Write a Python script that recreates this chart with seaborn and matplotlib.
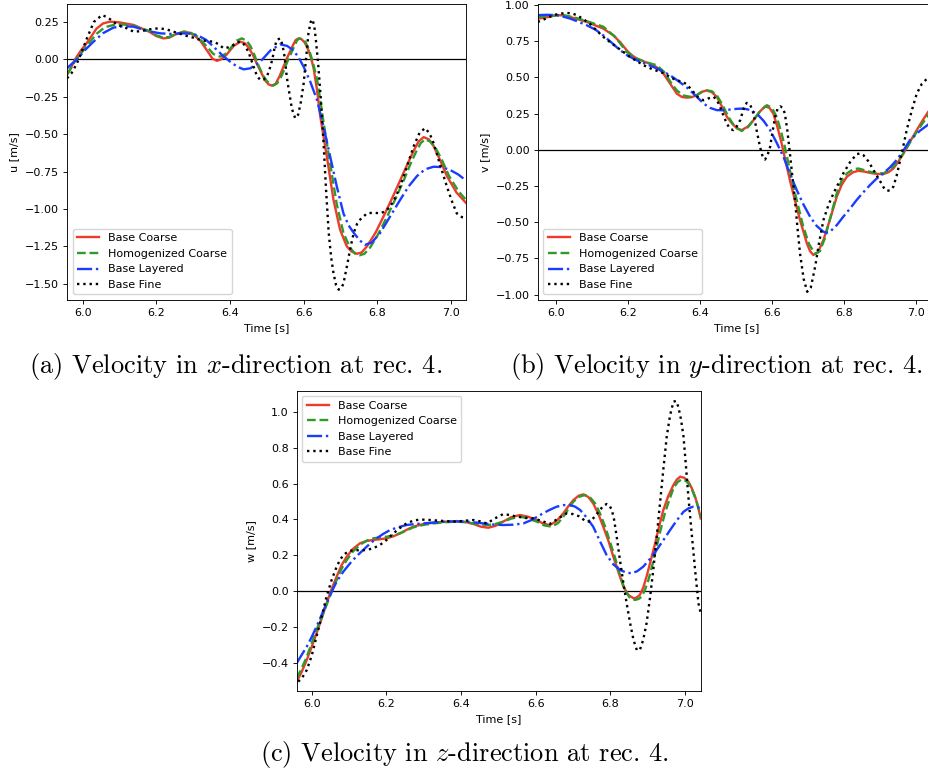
import matplotlib
matplotlib.use("Agg")
import matplotlib.pyplot as plt
from matplotlib.ticker import FuncFormatter
import seaborn as sns
import pandas as pd

plt.rcParams.update({
    "font.family": ["DejaVu Sans"],
    "font.size": 8,
    "axes.linewidth": 0.64,
    "xtick.major.size": 2.8,
    "ytick.major.size": 2.8,
    "xtick.major.width": 0.64,
    "ytick.major.width": 0.64,
    "xtick.major.pad": 2.8,
    "ytick.major.pad": 2.8,
    "lines.linewidth": 1.6,
    "legend.fontsize": 8,
    "mathtext.fontset": "cm",
})

labels = ["Base Coarse", "Homogenized Coarse", "Base Layered", "Base Fine"]
colors = ["#ee3b2b", "#2f9a2a", "#1a3cff", "black"]
styles = ["-", "--", "-.", ":"]

# ---------- (a) u velocity ----------
t_a_coarse = [5.957, 5.968, 5.979, 5.995, 6.011, 6.037, 6.055, 6.074, 6.10, 6.138, 6.18, 6.20, 6.219, 6.235, 6.25, 6.274, 6.29, 6.305, 6.319, 6.34, 6.352, 6.364, 6.376, 6.39, 6.41, 6.428, 6.44, 6.45, 6.462, 6.473, 6.485, 6.495, 6.505, 6.514, 6.524, 6.535, 6.545, 6.555, 6.57, 6.578, 6.586, 6.594, 6.603, 6.613, 6.62, 6.627, 6.636, 6.645, 6.663, 6.681, 6.699, 6.717, 6.73, 6.745, 6.758, 6.772, 6.795, 6.817, 6.84, 6.862, 6.882, 6.899, 6.912, 6.926, 6.94, 6.953, 6.97, 6.989, 7.015, 7.041]
u_coarse = [-0.105, -0.055, 0.0, 0.06, 0.11, 0.205, 0.24, 0.252, 0.247, 0.23, 0.185, 0.155, 0.14, 0.145, 0.165, 0.185, 0.178, 0.155, 0.125, 0.05, 0.005, -0.01, 0.0, 0.03, 0.09, 0.118, 0.108, 0.08, 0.03, -0.03, -0.09, -0.14, -0.168, -0.176, -0.163, -0.11, -0.05, 0.01, 0.09, 0.128, 0.14, 0.135, 0.112, 0.06, 0.01, -0.06, -0.2, -0.38, -0.65, -0.94, -1.14, -1.25, -1.285, -1.30, -1.29, -1.25, -1.16, -1.05, -0.93, -0.81, -0.70, -0.61, -0.55, -0.52, -0.535, -0.58, -0.67, -0.78, -0.89, -0.96]
t_a_homog = [5.957, 5.968, 5.979, 5.995, 6.011, 6.037, 6.06, 6.092, 6.115, 6.138, 6.18, 6.20, 6.219, 6.235, 6.25, 6.274, 6.29, 6.31, 6.337, 6.355, 6.373, 6.387, 6.40, 6.418, 6.432, 6.445, 6.455, 6.466, 6.477, 6.49, 6.50, 6.51, 6.518, 6.528, 6.54, 6.55, 6.56, 6.575, 6.582, 6.589, 6.597, 6.605, 6.615, 6.625, 6.636, 6.645, 6.654, 6.672, 6.69, 6.708, 6.726, 6.74, 6.752, 6.765, 6.78, 6.80, 6.825, 6.848, 6.87, 6.89, 6.905, 6.918, 6.930, 6.944, 6.958, 6.975, 6.995, 7.02, 7.041]
u_homog = [-0.10, -0.06, -0.01, 0.04, 0.09, 0.17, 0.215, 0.235, 0.232, 0.225, 0.19, 0.16, 0.145, 0.15, 0.165, 0.185, 0.182, 0.155, 0.085, 0.035, 0.018, 0.035, 0.07, 0.125, 0.14, 0.125, 0.09, 0.03, -0.04, -0.11, -0.145, -0.17, -0.175, -0.16, -0.11, -0.05, 0.01, 0.09, 0.128, 0.14, 0.135, 0.115, 0.06, -0.02, -0.13, -0.27, -0.42, -0.70, -0.97, -1.16, -1.26, -1.30, -1.31, -1.30, -1.26, -1.18, -1.06, -0.94, -0.82, -0.70, -0.62, -0.56, -0.535, -0.55, -0.59, -0.67, -0.78, -0.88, -0.94]
t_a_layer = [5.957, 5.97, 5.984, 6.005, 6.029, 6.055, 6.083, 6.11, 6.138, 6.175, 6.21, 6.24, 6.264, 6.29, 6.31, 6.335, 6.355, 6.38, 6.40, 6.42, 6.437, 6.455, 6.482, 6.51, 6.536, 6.555, 6.572, 6.587, 6.60, 6.618, 6.636, 6.654, 6.672, 6.69, 6.708, 6.722, 6.736, 6.752, 6.767, 6.785, 6.808, 6.835, 6.862, 6.885, 6.908, 6.93, 6.953, 6.975, 6.998, 7.02, 7.041]
u_layer = [-0.06, -0.03, 0.0, 0.06, 0.118, 0.175, 0.212, 0.222, 0.218, 0.19, 0.174, 0.17, 0.174, 0.172, 0.163, 0.13, 0.085, 0.025, -0.015, -0.05, -0.067, -0.06, -0.016, 0.06, 0.10, 0.09, 0.06, 0.01, -0.05, -0.15, -0.27, -0.45, -0.65, -0.85, -1.03, -1.11, -1.16, -1.21, -1.24, -1.225, -1.16, -1.05, -0.94, -0.85, -0.78, -0.735, -0.718, -0.72, -0.74, -0.77, -0.81]
t_a_fine = [5.957, 5.97, 5.984, 5.997, 6.011, 6.03, 6.052, 6.068, 6.083, 6.10, 6.12, 6.138, 6.155, 6.174, 6.19, 6.21, 6.228, 6.246, 6.265, 6.283, 6.30, 6.319, 6.337, 6.355, 6.37, 6.382, 6.395, 6.41, 6.42, 6.428, 6.438, 6.45, 6.464, 6.473, 6.482, 6.491, 6.50, 6.508, 6.515, 6.521, 6.527, 6.536, 6.542, 6.548, 6.554, 6.56, 6.568, 6.577, 6.585, 6.592, 6.60, 6.607, 6.613, 6.619, 6.624, 6.629, 6.634, 6.64, 6.647, 6.654, 6.661, 6.668, 6.675, 6.681, 6.688, 6.695, 6.702, 6.708, 6.717, 6.727, 6.736, 6.745, 6.754, 6.772, 6.79, 6.808, 6.822, 6.835, 6.85, 6.862, 6.88, 6.899, 6.915, 6.930, 6.942, 6.953, 6.97, 6.989, 7.003, 7.016, 7.03, 7.041]
u_fine = [-0.127, -0.09, -0.027, 0.05, 0.14, 0.25, 0.296, 0.28, 0.25, 0.225, 0.207, 0.185, 0.188, 0.196, 0.205, 0.207, 0.2, 0.185, 0.17, 0.156, 0.145, 0.13, 0.122, 0.118, 0.1, 0.074, 0.08, 0.096, 0.115, 0.118, 0.1, 0.05, -0.05, -0.11, -0.138, -0.135, -0.116, -0.06, 0.0, 0.08, 0.13, 0.14, 0.1, 0.02, -0.116, -0.21, -0.33, -0.394, -0.37, -0.29, -0.16, 0.02, 0.174, 0.25, 0.267, 0.22, 0.11, -0.05, -0.28, -0.56, -0.88, -1.16, -1.33, -1.43, -1.51, -1.54, -1.53, -1.50, -1.39, -1.26, -1.16, -1.10, -1.07, -1.03, -1.025, -1.03, -1.015, -0.985, -0.92, -0.85, -0.72, -0.58, -0.49, -0.46, -0.495, -0.56, -0.70, -0.85, -0.95, -1.03, -1.055, -1.06]

# ---------- (b) v velocity ----------
t_b_coarse = [5.950, 5.975, 6.003, 6.02, 6.040, 6.086, 6.132, 6.160, 6.18, 6.197, 6.21, 6.225, 6.25, 6.271, 6.286, 6.299, 6.318, 6.336, 6.35, 6.364, 6.377, 6.391, 6.405, 6.419, 6.433, 6.447, 6.46, 6.475, 6.49, 6.503, 6.516, 6.533, 6.549, 6.565, 6.581, 6.593, 6.604, 6.615, 6.627, 6.638, 6.650, 6.664, 6.678, 6.697, 6.706, 6.715, 6.728, 6.743, 6.76, 6.780, 6.794, 6.808, 6.825, 6.840, 6.856, 6.872, 6.89, 6.909, 6.923, 6.937, 6.95, 6.965, 6.983, 7.002, 7.02, 7.037]
v_coarse = [0.905, 0.915, 0.93, 0.928, 0.917, 0.883, 0.837, 0.79, 0.74, 0.687, 0.655, 0.63, 0.605, 0.584, 0.56, 0.526, 0.455, 0.388, 0.365, 0.36, 0.363, 0.377, 0.40, 0.41, 0.398, 0.366, 0.305, 0.228, 0.18, 0.148, 0.136, 0.16, 0.205, 0.26, 0.30, 0.29, 0.25, 0.16, 0.044, -0.08, -0.21, -0.35, -0.485, -0.646, -0.70, -0.726, -0.705, -0.623, -0.49, -0.324, -0.24, -0.186, -0.155, -0.145, -0.15, -0.159, -0.166, -0.168, -0.155, -0.129, -0.085, -0.025, 0.055, 0.136, 0.21, 0.274]
t_b_homog = [5.950, 5.985, 6.021, 6.05, 6.09, 6.132, 6.165, 6.197, 6.225, 6.25, 6.280, 6.30, 6.318, 6.336, 6.355, 6.373, 6.39, 6.405, 6.419, 6.433, 6.447, 6.463, 6.479, 6.497, 6.516, 6.533, 6.549, 6.568, 6.586, 6.60, 6.613, 6.625, 6.636, 6.648, 6.660, 6.673, 6.687, 6.703, 6.720, 6.733, 6.747, 6.763, 6.780, 6.794, 6.808, 6.825, 6.840, 6.856, 6.872, 6.89, 6.909, 6.923, 6.937, 6.95, 6.965, 6.983, 7.002, 7.02, 7.037]
v_homog = [0.917, 0.925, 0.93, 0.915, 0.885, 0.85, 0.78, 0.676, 0.63, 0.605, 0.584, 0.54, 0.47, 0.41, 0.375, 0.366, 0.375, 0.398, 0.41, 0.405, 0.377, 0.31, 0.228, 0.16, 0.13, 0.155, 0.205, 0.27, 0.308, 0.29, 0.228, 0.13, 0.02, -0.12, -0.255, -0.39, -0.53, -0.65, -0.72, -0.70, -0.61, -0.46, -0.30, -0.21, -0.163, -0.135, -0.129, -0.14, -0.152, -0.16, -0.163, -0.145, -0.117, -0.075, -0.025, 0.05, 0.124, 0.19, 0.25]
t_b_layer = [5.950, 5.975, 6.003, 6.02, 6.040, 6.062, 6.086, 6.11, 6.132, 6.155, 6.179, 6.20, 6.225, 6.248, 6.271, 6.295, 6.317, 6.34, 6.364, 6.388, 6.410, 6.428, 6.447, 6.465, 6.484, 6.503, 6.521, 6.54, 6.558, 6.577, 6.595, 6.613, 6.632, 6.65, 6.669, 6.687, 6.706, 6.724, 6.743, 6.752, 6.761, 6.78, 6.798, 6.817, 6.835, 6.853, 6.872, 6.89, 6.909, 6.928, 6.946, 6.965, 6.983, 7.01, 7.037]
v_layer = [0.93, 0.932, 0.93, 0.92, 0.906, 0.885, 0.86, 0.83, 0.79, 0.74, 0.687, 0.65, 0.618, 0.595, 0.572, 0.545, 0.515, 0.475, 0.43, 0.375, 0.32, 0.29, 0.274, 0.273, 0.278, 0.283, 0.285, 0.275, 0.25, 0.2, 0.136, 0.05, -0.048, -0.165, -0.278, -0.375, -0.462, -0.525, -0.566, -0.572, -0.566, -0.52, -0.462, -0.405, -0.347, -0.295, -0.244, -0.2, -0.163, -0.12, -0.071, -0.005, 0.067, 0.13, 0.18]
t_b_fine = [5.950, 5.972, 5.994, 6.012, 6.031, 6.045, 6.058, 6.075, 6.095, 6.113, 6.132, 6.15, 6.169, 6.188, 6.206, 6.23, 6.253, 6.272, 6.290, 6.303, 6.317, 6.335, 6.354, 6.368, 6.382, 6.396, 6.410, 6.424, 6.438, 6.447, 6.456, 6.465, 6.475, 6.484, 6.493, 6.502, 6.512, 6.521, 6.530, 6.54, 6.549, 6.558, 6.567, 6.574, 6.581, 6.588, 6.595, 6.602, 6.609, 6.616, 6.623, 6.63, 6.636, 6.643, 6.650, 6.657, 6.664, 6.671, 6.678, 6.688, 6.698, 6.708, 6.720, 6.731, 6.743, 6.757, 6.771, 6.785, 6.798, 6.817, 6.835, 6.845, 6.854, 6.868, 6.882, 6.9, 6.91, 6.919, 6.928, 6.937, 6.946, 6.956, 6.965, 6.974, 6.988, 7.002, 7.016, 7.030, 7.037]
v_fine = [0.883, 0.905, 0.93, 0.94, 0.945, 0.942, 0.93, 0.905, 0.87, 0.825, 0.78, 0.745, 0.71, 0.675, 0.641, 0.605, 0.572, 0.553, 0.538, 0.525, 0.503, 0.48, 0.469, 0.44, 0.40, 0.36, 0.342, 0.355, 0.366, 0.345, 0.297, 0.24, 0.18, 0.145, 0.136, 0.16, 0.205, 0.28, 0.324, 0.31, 0.25, 0.13, 0.02, -0.045, -0.067, -0.035, 0.02, 0.13, 0.228, 0.285, 0.30, 0.29, 0.25, 0.13, -0.025, -0.19, -0.347, -0.54, -0.715, -0.89, -0.98, -0.95, -0.807, -0.64, -0.485, -0.38, -0.30, -0.23, -0.163, -0.085, -0.03, -0.025, -0.037, -0.08, -0.14, -0.215, -0.26, -0.283, -0.28, -0.255, -0.18, -0.071, 0.03, 0.136, 0.27, 0.388, 0.455, 0.49, 0.499]

# ---------- (c) w velocity ----------
t_c_coarse = [5.960, 5.973, 5.987, 6.0, 6.013, 6.027, 6.040, 6.053, 6.067, 6.08, 6.094, 6.11, 6.129, 6.147, 6.165, 6.183, 6.201, 6.22, 6.237, 6.255, 6.272, 6.3, 6.326, 6.36, 6.388, 6.41, 6.433, 6.453, 6.473, 6.493, 6.513, 6.535, 6.558, 6.58, 6.603, 6.62, 6.638, 6.655, 6.674, 6.688, 6.701, 6.715, 6.728, 6.741, 6.754, 6.768, 6.781, 6.795, 6.808, 6.822, 6.835, 6.848, 6.862, 6.87, 6.879, 6.888, 6.897, 6.908, 6.920, 6.931, 6.942, 6.955, 6.969, 6.978, 6.987, 6.998, 7.009, 7.018, 7.027, 7.035, 7.042]
w_coarse = [-0.503, -0.45, -0.382, -0.31, -0.234, -0.15, -0.067, 0.01, 0.082, 0.145, 0.193, 0.235, 0.267, 0.28, 0.286, 0.29, 0.295, 0.307, 0.323, 0.343, 0.36, 0.375, 0.382, 0.388, 0.391, 0.387, 0.375, 0.36, 0.354, 0.365, 0.388, 0.413, 0.425, 0.415, 0.397, 0.377, 0.369, 0.39, 0.434, 0.475, 0.508, 0.532, 0.54, 0.525, 0.49, 0.43, 0.36, 0.28, 0.193, 0.105, 0.026, -0.02, -0.039, -0.035, -0.02, 0.02, 0.082, 0.17, 0.267, 0.365, 0.453, 0.53, 0.592, 0.622, 0.638, 0.632, 0.61, 0.575, 0.527, 0.47, 0.406]
t_c_homog = [5.960, 5.973, 5.987, 6.0, 6.013, 6.027, 6.040, 6.053, 6.067, 6.08, 6.094, 6.11, 6.129, 6.147, 6.165, 6.183, 6.201, 6.22, 6.237, 6.255, 6.272, 6.3, 6.326, 6.36, 6.388, 6.41, 6.433, 6.453, 6.473, 6.493, 6.513, 6.535, 6.558, 6.58, 6.603, 6.623, 6.643, 6.66, 6.674, 6.688, 6.701, 6.717, 6.732, 6.746, 6.759, 6.772, 6.786, 6.8, 6.813, 6.826, 6.839, 6.852, 6.866, 6.875, 6.884, 6.893, 6.902, 6.913, 6.924, 6.935, 6.946, 6.958, 6.969, 6.98, 6.991, 7.002, 7.013, 7.022, 7.031, 7.042]
w_homog = [-0.484, -0.43, -0.364, -0.29, -0.215, -0.145, -0.076, -0.005, 0.063, 0.125, 0.174, 0.22, 0.258, 0.282, 0.295, 0.3, 0.304, 0.312, 0.323, 0.34, 0.356, 0.37, 0.378, 0.385, 0.388, 0.385, 0.378, 0.372, 0.369, 0.375, 0.388, 0.405, 0.416, 0.405, 0.388, 0.367, 0.36, 0.38, 0.416, 0.46, 0.499, 0.527, 0.536, 0.522, 0.49, 0.435, 0.36, 0.27, 0.184, 0.09, 0.007, -0.035, -0.048, -0.043, -0.03, 0.01, 0.063, 0.15, 0.249, 0.345, 0.434, 0.51, 0.573, 0.608, 0.623, 0.615, 0.592, 0.55, 0.499, 0.416]
t_c_layer = [5.960, 5.973, 5.987, 6.0, 6.013, 6.027, 6.040, 6.053, 6.067, 6.085, 6.103, 6.12, 6.138, 6.156, 6.174, 6.192, 6.210, 6.232, 6.254, 6.277, 6.299, 6.33, 6.362, 6.39, 6.415, 6.44, 6.460, 6.487, 6.513, 6.54, 6.567, 6.59, 6.612, 6.634, 6.656, 6.675, 6.692, 6.705, 6.719, 6.737, 6.754, 6.772, 6.790, 6.808, 6.826, 6.842, 6.857, 6.872, 6.888, 6.906, 6.924, 6.942, 6.960, 6.978, 6.996, 7.01, 7.022, 7.032, 7.042]
w_layer = [-0.40, -0.355, -0.308, -0.255, -0.197, -0.13, -0.067, -0.005, 0.054, 0.11, 0.156, 0.195, 0.23, 0.265, 0.295, 0.32, 0.341, 0.357, 0.369, 0.375, 0.378, 0.383, 0.388, 0.389, 0.388, 0.383, 0.378, 0.372, 0.369, 0.371, 0.378, 0.398, 0.425, 0.45, 0.471, 0.48, 0.48, 0.472, 0.453, 0.41, 0.36, 0.28, 0.202, 0.15, 0.119, 0.105, 0.10, 0.112, 0.137, 0.18, 0.23, 0.285, 0.341, 0.395, 0.443, 0.463, 0.471, 0.47, 0.462]
t_c_fine = [5.964, 5.975, 5.987, 6.0, 6.013, 6.027, 6.040, 6.053, 6.067, 6.076, 6.085, 6.098, 6.112, 6.13, 6.147, 6.165, 6.183, 6.2, 6.219, 6.236, 6.254, 6.272, 6.290, 6.317, 6.344, 6.366, 6.388, 6.41, 6.433, 6.451, 6.469, 6.49, 6.513, 6.53, 6.549, 6.57, 6.594, 6.616, 6.638, 6.66, 6.683, 6.70, 6.719, 6.733, 6.746, 6.76, 6.772, 6.781, 6.790, 6.797, 6.804, 6.81, 6.817, 6.826, 6.835, 6.844, 6.853, 6.862, 6.871, 6.879, 6.888, 6.897, 6.906, 6.915, 6.924, 6.933, 6.942, 6.951, 6.96, 6.969, 6.976, 6.982, 6.989, 6.996, 7.002, 7.009, 7.018, 7.027, 7.036, 7.042]
w_fine = [-0.503, -0.48, -0.438, -0.36, -0.252, -0.14, -0.03, 0.06, 0.137, 0.175, 0.202, 0.222, 0.23, 0.228, 0.23, 0.24, 0.258, 0.285, 0.323, 0.352, 0.378, 0.393, 0.40, 0.397, 0.393, 0.39, 0.388, 0.393, 0.397, 0.39, 0.378, 0.405, 0.43, 0.425, 0.416, 0.41, 0.406, 0.392, 0.375, 0.405, 0.434, 0.43, 0.416, 0.39, 0.388, 0.42, 0.453, 0.475, 0.486, 0.48, 0.453, 0.4, 0.304, 0.17, 0.045, -0.07, -0.178, -0.27, -0.327, -0.327, -0.27, -0.178, -0.04, 0.119, 0.3, 0.49, 0.68, 0.861, 0.98, 1.056, 1.06, 1.028, 0.96, 0.861, 0.71, 0.527, 0.32, 0.119, -0.067, -0.122]

W, H = 929, 778
fig = plt.figure(figsize=(W / 100, H / 100), dpi=100)


def make_axes(l, t, r, b):
    return fig.add_axes([l / W, 1 - b / H, (r - l) / W, (b - t) / H])


def minus_fmt(fmt):
    return FuncFormatter(lambda v, pos: (fmt % v).replace("-", "\u2212"))


panels = [
    dict(ax=make_axes(67, 4.3, 466, 300),
         series=[(t_a_coarse, u_coarse), (t_a_homog, u_homog), (t_a_layer, u_layer), (t_a_fine, u_fine)],
         xlim=(5.957, 7.041), ylim=(-1.609, 0.368), yticks=[0.25, 0.0, -0.25, -0.5, -0.75, -1.0, -1.25, -1.5],
         ylabel="u [m/s]", loc="lower left", fmt="%.2f"),
    dict(ax=make_axes(537.7, 4.3, 936.4, 300),
         series=[(t_b_coarse, v_coarse), (t_b_homog, v_homog), (t_b_layer, v_layer), (t_b_fine, v_fine)],
         xlim=(5.950, 7.0565), ylim=(-1.0368, 1.0046), yticks=[1.0, 0.75, 0.5, 0.25, 0.0, -0.25, -0.5, -0.75, -1.0],
         ylabel="v [m/s]", loc="lower left", fmt="%.2f"),
    dict(ax=make_axes(296.7, 390.7, 700.7, 691),
         series=[(t_c_coarse, w_coarse), (t_c_homog, w_homog), (t_c_layer, w_layer), (t_c_fine, w_fine)],
         xlim=(5.960, 7.042), ylim=(-0.555, 1.117), yticks=[1.0, 0.8, 0.6, 0.4, 0.2, 0.0, -0.2, -0.4],
         ylabel="w [m/s]", loc="upper left", fmt="%.1f"),
]

for p in panels:
    ax = p["ax"]
    ax.axhline(0, color="black", lw=0.9, zorder=1)
    for (tt, vv), lab, col, ls in zip(p["series"], labels, colors, styles):
        df = pd.DataFrame({"Time": tt, "val": vv})
        sns.lineplot(data=df, x="Time", y="val", ax=ax, color=col, linestyle=ls,
                     label=lab, lw=1.7, estimator=None, sort=False)
    ax.set_xlim(*p["xlim"])
    ax.set_ylim(*p["ylim"])
    ax.set_xticks([6.0, 6.2, 6.4, 6.6, 6.8, 7.0])
    ax.set_yticks(p["yticks"])
    ax.yaxis.set_major_formatter(minus_fmt(p["fmt"]))
    ax.set_xlabel("Time [s]")
    ax.set_ylabel(p["ylabel"])
    ax.legend(loc=p["loc"], fontsize=8)

cap_kw = dict(fontsize=19, family="cmr10", ha="center", va="center")
fig.text(236 / W, 1 - 366 / H, "(a) Velocity in $x$-direction at rec. 4.", **cap_kw)
fig.text(716 / W, 1 - 366 / H, "(b) Velocity in $y$-direction at rec. 4.", **cap_kw)
fig.text(465 / W, 1 - 754 / H, "(c) Velocity in $z$-direction at rec. 4.", **cap_kw)

fig.savefig("out.png", dpi=100)
